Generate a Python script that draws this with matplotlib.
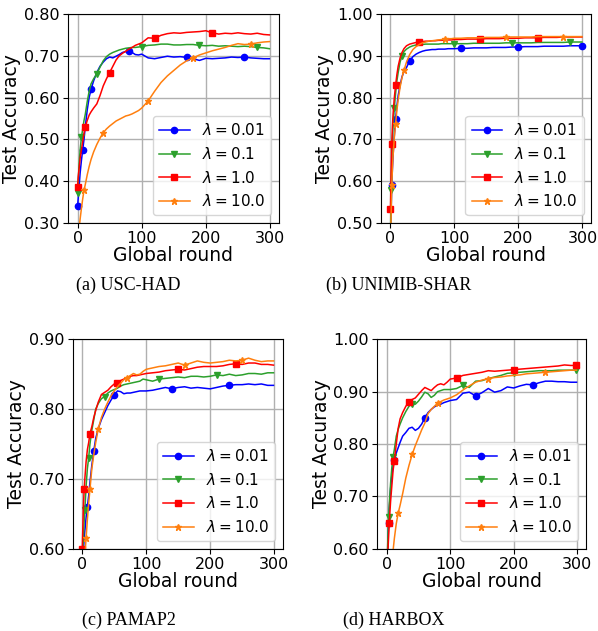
import matplotlib
matplotlib.use("Agg")
import matplotlib.pyplot as plt
from matplotlib.ticker import FormatStrFormatter

# ---------------- data ----------------
rounds = [0, 1, 2, 3, 4, 6, 8, 10, 12, 15, 18, 21, 25, 30, 35, 40, 45, 50, 55, 60,
          65, 70, 75, 80, 85, 90, 95, 100, 110, 120, 130, 140, 150, 160, 170, 180,
          190, 200, 210, 220, 230, 240, 250, 260, 270, 280, 290, 299]

labels = [r"$\lambda = 0.01$", r"$\lambda = 0.1$", r"$\lambda = 1.0$", r"$\lambda = 10.0$"]

# (a) USC-HAD
usc_001 = [0.340, 0.360, 0.380, 0.400, 0.420, 0.450, 0.475, 0.500, 0.530, 0.570, 0.600, 0.620,
           0.640, 0.660, 0.675, 0.685, 0.693, 0.697, 0.695, 0.699, 0.703, 0.708, 0.710, 0.712,
           0.708, 0.703, 0.702, 0.704, 0.695, 0.693, 0.696, 0.699, 0.697, 0.698, 0.696, 0.693,
           0.689, 0.694, 0.693, 0.694, 0.695, 0.697, 0.696, 0.697, 0.695, 0.694, 0.693, 0.693]
usc_01 = [0.372, 0.400, 0.430, 0.455, 0.475, 0.505, 0.525, 0.545, 0.560, 0.590, 0.615, 0.633,
          0.645, 0.657, 0.673, 0.688, 0.698, 0.704, 0.708, 0.711, 0.714, 0.716, 0.718, 0.719,
          0.720, 0.720, 0.721, 0.722, 0.725, 0.726, 0.728, 0.728, 0.726, 0.726, 0.727, 0.727,
          0.725, 0.724, 0.725, 0.723, 0.724, 0.723, 0.722, 0.723, 0.722, 0.720, 0.719, 0.717]
usc_1 = [0.387, 0.410, 0.425, 0.440, 0.455, 0.475, 0.495, 0.515, 0.530, 0.545, 0.558, 0.566,
         0.575, 0.585, 0.605, 0.628, 0.645, 0.660, 0.675, 0.690, 0.700, 0.706, 0.711, 0.716,
         0.720, 0.725, 0.728, 0.731, 0.743, 0.742, 0.749, 0.753, 0.755, 0.754, 0.756, 0.757,
         0.758, 0.760, 0.755, 0.752, 0.754, 0.753, 0.755, 0.753, 0.752, 0.754, 0.751, 0.750]
usc_10 = [0.240, 0.260, 0.280, 0.295, 0.310, 0.335, 0.358, 0.378, 0.392, 0.415, 0.435, 0.452,
          0.470, 0.488, 0.503, 0.516, 0.525, 0.532, 0.538, 0.544, 0.548, 0.552, 0.556, 0.558,
          0.561, 0.565, 0.569, 0.575, 0.592, 0.615, 0.636, 0.652, 0.665, 0.678, 0.688, 0.695,
          0.702, 0.707, 0.712, 0.716, 0.720, 0.725, 0.729, 0.727, 0.728, 0.731, 0.733, 0.734]

# (b) UNIMIB-SHAR
uni_001 = [0.460, 0.530, 0.590, 0.630, 0.660, 0.710, 0.750, 0.780, 0.805, 0.830, 0.850, 0.862,
           0.872, 0.888, 0.898, 0.904, 0.908, 0.911, 0.913, 0.914, 0.915, 0.915, 0.916, 0.916,
           0.916, 0.917, 0.917, 0.917, 0.918, 0.918, 0.919, 0.919, 0.919, 0.920, 0.920, 0.920,
           0.921, 0.921, 0.922, 0.922, 0.922, 0.923, 0.923, 0.923, 0.923, 0.924, 0.924, 0.924]
uni_01 = [0.470, 0.580, 0.650, 0.700, 0.730, 0.775, 0.810, 0.840, 0.860, 0.885, 0.900, 0.910,
          0.916, 0.921, 0.924, 0.926, 0.927, 0.927, 0.928, 0.928, 0.928, 0.928, 0.928, 0.929,
          0.929, 0.929, 0.929, 0.929, 0.929, 0.929, 0.930, 0.930, 0.930, 0.930, 0.930, 0.931,
          0.931, 0.931, 0.931, 0.931, 0.932, 0.932, 0.932, 0.932, 0.932, 0.933, 0.933, 0.933]
uni_1 = [0.534, 0.620, 0.690, 0.730, 0.760, 0.800, 0.830, 0.855, 0.875, 0.895, 0.908, 0.917,
         0.924, 0.928, 0.930, 0.932, 0.933, 0.934, 0.935, 0.935, 0.936, 0.936, 0.937, 0.937,
         0.938, 0.938, 0.938, 0.939, 0.939, 0.940, 0.940, 0.940, 0.941, 0.941, 0.941, 0.942,
         0.942, 0.942, 0.943, 0.943, 0.943, 0.944, 0.944, 0.944, 0.945, 0.945, 0.945, 0.945]
uni_10 = [0.440, 0.520, 0.590, 0.630, 0.660, 0.705, 0.738, 0.770, 0.795, 0.825, 0.848, 0.865,
          0.885, 0.903, 0.915, 0.922, 0.927, 0.931, 0.933, 0.935, 0.936, 0.937, 0.938, 0.939,
          0.940, 0.941, 0.941, 0.942, 0.942, 0.943, 0.943, 0.943, 0.944, 0.944, 0.944, 0.945,
          0.945, 0.945, 0.945, 0.945, 0.946, 0.946, 0.946, 0.946, 0.946, 0.946, 0.946, 0.946]

# (c) PAMAP2
pam_001 = [0.570, 0.590, 0.600, 0.615, 0.625, 0.645, 0.660, 0.676, 0.695, 0.720, 0.740, 0.758,
           0.772, 0.785, 0.795, 0.805, 0.813, 0.820, 0.826, 0.825, 0.822, 0.823, 0.823, 0.824,
           0.825, 0.826, 0.826, 0.826, 0.827, 0.829, 0.831, 0.829, 0.831, 0.832, 0.830, 0.831,
           0.830, 0.829, 0.831, 0.833, 0.834, 0.835, 0.835, 0.836, 0.835, 0.836, 0.834, 0.834]
pam_01 = [0.570, 0.600, 0.620, 0.640, 0.655, 0.690, 0.715, 0.730, 0.750, 0.770, 0.785, 0.800,
          0.808, 0.815, 0.818, 0.823, 0.826, 0.828, 0.830, 0.833, 0.835, 0.836, 0.837, 0.838,
          0.839, 0.840, 0.843, 0.842, 0.840, 0.843, 0.844, 0.845, 0.846, 0.845, 0.847, 0.847,
          0.846, 0.847, 0.849, 0.848, 0.850, 0.848, 0.849, 0.851, 0.851, 0.850, 0.852, 0.852]
pam_1 = [0.600, 0.635, 0.666, 0.685, 0.700, 0.725, 0.742, 0.752, 0.765, 0.775, 0.788, 0.798,
         0.810, 0.821, 0.824, 0.827, 0.832, 0.836, 0.838, 0.841, 0.843, 0.845, 0.847, 0.848,
         0.848, 0.849, 0.850, 0.851, 0.852, 0.853, 0.855, 0.856, 0.857, 0.856, 0.858, 0.860,
         0.861, 0.861, 0.861, 0.862, 0.864, 0.865, 0.864, 0.866, 0.866, 0.864, 0.864, 0.863]
pam_10 = [0.520, 0.540, 0.560, 0.575, 0.590, 0.615, 0.642, 0.665, 0.685, 0.715, 0.735, 0.752,
          0.772, 0.788, 0.800, 0.810, 0.819, 0.826, 0.832, 0.837, 0.842, 0.845, 0.848, 0.851,
          0.849, 0.850, 0.854, 0.857, 0.859, 0.861, 0.862, 0.864, 0.866, 0.863, 0.866, 0.869,
          0.867, 0.866, 0.867, 0.868, 0.870, 0.869, 0.870, 0.873, 0.870, 0.868, 0.869, 0.869]

# (d) HARBOX
har_001 = [0.550, 0.580, 0.620, 0.650, 0.677, 0.715, 0.740, 0.758, 0.770, 0.783, 0.793, 0.803,
           0.815, 0.822, 0.830, 0.832, 0.826, 0.830, 0.838, 0.850, 0.860, 0.866, 0.871, 0.874,
           0.876, 0.879, 0.881, 0.883, 0.885, 0.897, 0.899, 0.892, 0.898, 0.906, 0.899, 0.902,
           0.909, 0.907, 0.911, 0.914, 0.913, 0.917, 0.920, 0.920, 0.919, 0.919, 0.918, 0.918]
har_01 = [0.550, 0.590, 0.630, 0.660, 0.685, 0.725, 0.755, 0.775, 0.790, 0.815, 0.828, 0.838,
          0.850, 0.862, 0.872, 0.877, 0.876, 0.882, 0.890, 0.899, 0.896, 0.889, 0.893, 0.900,
          0.902, 0.904, 0.904, 0.904, 0.906, 0.912, 0.908, 0.920, 0.921, 0.925, 0.928, 0.931,
          0.935, 0.936, 0.937, 0.938, 0.939, 0.940, 0.940, 0.940, 0.941, 0.941, 0.941, 0.941]
har_1 = [0.550, 0.575, 0.600, 0.625, 0.650, 0.690, 0.720, 0.750, 0.768, 0.800, 0.830, 0.848,
         0.860, 0.872, 0.881, 0.885, 0.888, 0.895, 0.902, 0.908, 0.905, 0.902, 0.908, 0.913,
         0.915, 0.913, 0.918, 0.924, 0.926, 0.931, 0.933, 0.935, 0.937, 0.940, 0.939, 0.940,
         0.941, 0.942, 0.943, 0.944, 0.945, 0.946, 0.947, 0.948, 0.949, 0.951, 0.950, 0.950]
har_10 = [0.440, 0.460, 0.475, 0.490, 0.505, 0.535, 0.565, 0.597, 0.620, 0.648, 0.668, 0.683,
          0.705, 0.735, 0.759, 0.780, 0.797, 0.812, 0.827, 0.840, 0.858, 0.866, 0.872, 0.878,
          0.881, 0.884, 0.886, 0.888, 0.894, 0.903, 0.911, 0.918, 0.922, 0.925, 0.927, 0.928,
          0.930, 0.931, 0.932, 0.934, 0.935, 0.936, 0.937, 0.938, 0.939, 0.940, 0.941, 0.941]

captions = ["(a) USC-HAD", "(b) UNIMIB-SHAR", "(c) PAMAP2", "(d) HARBOX"]
ylims = [(0.30, 0.80), (0.50, 1.00), (0.60, 0.90), (0.60, 1.00)]
yticks = [[0.30, 0.40, 0.50, 0.60, 0.70, 0.80],
          [0.50, 0.60, 0.70, 0.80, 0.90, 1.00],
          [0.60, 0.70, 0.80, 0.90],
          [0.60, 0.70, 0.80, 0.90, 1.00]]
xticks = [0, 100, 200, 300]

panels = [[usc_001, usc_01, usc_1, usc_10],
          [uni_001, uni_01, uni_1, uni_10],
          [pam_001, pam_01, pam_1, pam_10],
          [har_001, har_01, har_1, har_10]]

# ---------------- style ----------------
colors = ["blue", "#2ca02c", "red", "#ff7f0e"]
markers = ["o", "v", "s", "*"]
msizes = [4.5, 4.5, 4.5, 5.0]

axes_rects = [
    [0.1137, 0.6466, 0.3528, 0.3312],
    [0.6370, 0.6466, 0.3520, 0.3312],
    [0.1216, 0.1304, 0.3517, 0.3319],
    [0.6309, 0.1304, 0.3490, 0.3319],
]
caption_pos = [(0.214, 0.548), (0.666, 0.548), (0.216, 0.017), (0.659, 0.017)]

fig = plt.figure(figsize=(5.98, 6.31), dpi=100)

for i in range(4):
    ax = fig.add_axes(axes_rects[i])
    for j in range(4):
        ax.plot(rounds, panels[i][j], color=colors[j], marker=markers[j],
                markersize=msizes[j], markevery=0.2, linewidth=1.1,
                label=labels[j])
    ax.set_ylim(*ylims[i])
    ax.set_yticks(yticks[i])
    ax.set_xticks(xticks)
    ax.yaxis.set_major_formatter(FormatStrFormatter("%.2f"))
    ax.grid(True, color="#b0b0b0", linewidth=1.0)
    ax.set_axisbelow(True)
    ax.tick_params(labelsize=11.5, pad=2.5)
    ax.set_xlabel("Global round", fontsize=13.5, labelpad=0)
    ax.set_ylabel("Test Accuracy", fontsize=13.5, labelpad=2)
    ax.legend(loc="lower right", fontsize=11, framealpha=0.8)
    fig.text(caption_pos[i][0], caption_pos[i][1], captions[i],
             ha="center", va="center", fontsize=13,
             family=["Liberation Serif", "DejaVu Serif"])

fig.savefig("out.png", dpi=100)
